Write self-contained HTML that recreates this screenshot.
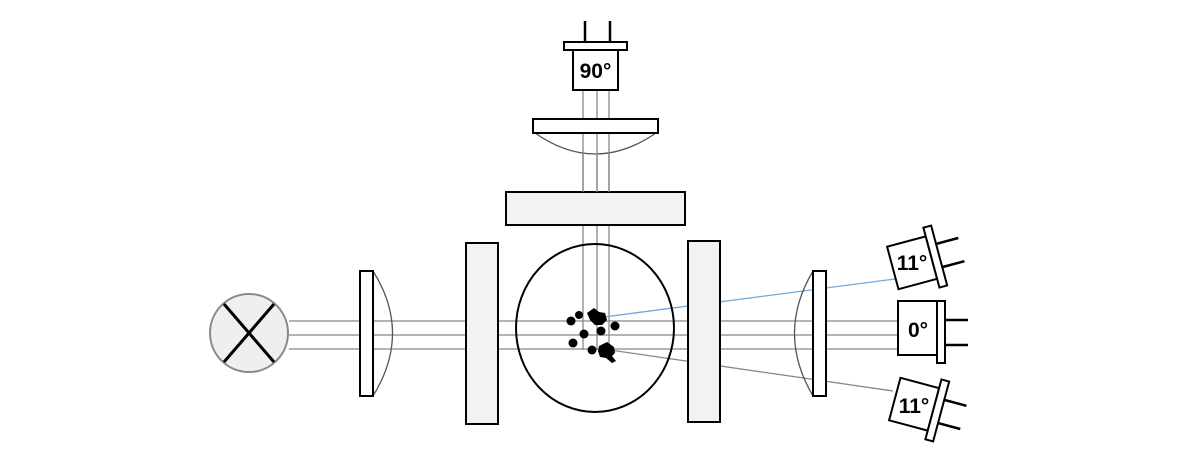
<!DOCTYPE html>
<html><head><style>html,body{margin:0;padding:0;background:#fff}svg{display:block}</style></head>
<body>
<svg width="1178" height="466" viewBox="0 0 1178 466" xmlns="http://www.w3.org/2000/svg" font-family="Liberation Sans, sans-serif">
<g stroke="#888" stroke-width="1.3" fill="none">
<line x1="289" y1="321" x2="898" y2="321"/>
<line x1="289" y1="335" x2="898" y2="335"/>
<line x1="289" y1="349" x2="898" y2="349"/>
<line x1="583" y1="90" x2="583" y2="350"/>
<line x1="597" y1="90" x2="597" y2="350"/>
<line x1="609" y1="90" x2="609" y2="350"/>
<line x1="610" y1="350" x2="893" y2="391"/>
</g>
<line x1="604" y1="317" x2="895" y2="279" stroke="#6fa8dc" stroke-width="1.3"/>
<circle cx="249" cy="333" r="39" fill="#efefef" stroke="#888" stroke-width="2"/>
<g stroke="#000" stroke-width="3"><line x1="224" y1="304" x2="274" y2="362"/><line x1="274" y1="304" x2="224" y2="362"/></g>
<path d="M373 271 Q412 333 373 396" fill="none" stroke="#555" stroke-width="1.3"/>
<rect x="360" y="271" width="13" height="125" fill="#fff" stroke="#000" stroke-width="2"/>
<path d="M813 271 Q776 333 813 396" fill="none" stroke="#555" stroke-width="1.3"/>
<rect x="813" y="271" width="13" height="125" fill="#fff" stroke="#000" stroke-width="2"/>
<rect x="466" y="243" width="32" height="181" fill="#f2f2f2" stroke="#000" stroke-width="2"/>
<rect x="688" y="241" width="32" height="181" fill="#f2f2f2" stroke="#000" stroke-width="2"/>
<rect x="506" y="192" width="179" height="33" fill="#f2f2f2" stroke="#000" stroke-width="2"/>
<ellipse cx="595" cy="328" rx="79" ry="84" fill="none" stroke="#000" stroke-width="2"/>
<path d="M535 133 Q595 175 656 133" fill="#fff" stroke="#555" stroke-width="1.3"/>
<line x1="583" y1="133" x2="583" y2="192" stroke="#888" stroke-width="1.3"/>
<line x1="597" y1="133" x2="597" y2="192" stroke="#888" stroke-width="1.3"/>
<line x1="609" y1="133" x2="609" y2="192" stroke="#888" stroke-width="1.3"/>
<rect x="533" y="119" width="125" height="14" fill="#fff" stroke="#000" stroke-width="2"/>
<g stroke="#000" stroke-width="2.5"><line x1="585" y1="21" x2="585" y2="42"/><line x1="610" y1="21" x2="610" y2="42"/></g>
<rect x="564" y="42" width="63" height="8" fill="#fff" stroke="#000" stroke-width="2"/>
<rect x="573" y="50" width="45" height="40" fill="#fff" stroke="#000" stroke-width="2"/>
<text x="595.5" y="78" font-size="21" font-weight="bold" text-anchor="middle">90°</text>
<g stroke="#000" stroke-width="2.5"><line x1="945" y1="320" x2="968" y2="320"/><line x1="945" y1="345" x2="968" y2="345"/></g>
<rect x="898" y="301" width="39" height="54" fill="#fff" stroke="#000" stroke-width="2"/>
<rect x="937" y="301" width="8" height="62" fill="#fff" stroke="#000" stroke-width="2"/>
<text x="918" y="337" font-size="21" font-weight="bold" text-anchor="middle">0°</text>
<g transform="translate(915,262) rotate(-15)">
<g stroke="#000" stroke-width="2.5"><line x1="25" y1="-12" x2="48" y2="-12"/><line x1="25" y1="12" x2="48" y2="12"/></g>
<rect x="-23" y="-22" width="40" height="44" fill="#fff" stroke="#000" stroke-width="2"/>
<rect x="17" y="-31" width="8" height="62" fill="#fff" stroke="#000" stroke-width="2"/>
<text x="-3" y="8" font-size="21" font-weight="bold" text-anchor="middle" transform="rotate(15)">11°</text>
</g>
<g transform="translate(917,405) rotate(15)">
<g stroke="#000" stroke-width="2.5"><line x1="25" y1="-12" x2="48" y2="-12"/><line x1="25" y1="12" x2="48" y2="12"/></g>
<rect x="-23" y="-22" width="40" height="44" fill="#fff" stroke="#000" stroke-width="2"/>
<rect x="17" y="-31" width="8" height="62" fill="#fff" stroke="#000" stroke-width="2"/>
<text x="-3" y="8" font-size="21" font-weight="bold" text-anchor="middle" transform="rotate(-15)">11°</text>
</g>
<g fill="#000">
<path d="M587 313 l7 -5 l5 4 l6 1 l2 7 l-5 5 l-7 0 l-5 -5 z"/>
<path d="M599 346 l8 -4 l7 5 l1 6 l-3 3 l4 5 l-4 2 l-6 -5 l-6 -1 l-2 -6 z"/>
<circle cx="571" cy="321" r="4.5"/>
<circle cx="579" cy="315" r="4"/>
<circle cx="584" cy="334" r="4.5"/>
<circle cx="573" cy="343" r="4.5"/>
<circle cx="592" cy="350" r="4.5"/>
<circle cx="601" cy="331" r="4.5"/>
<circle cx="615" cy="326" r="4.5"/>
</g>
</svg>
</body></html>
